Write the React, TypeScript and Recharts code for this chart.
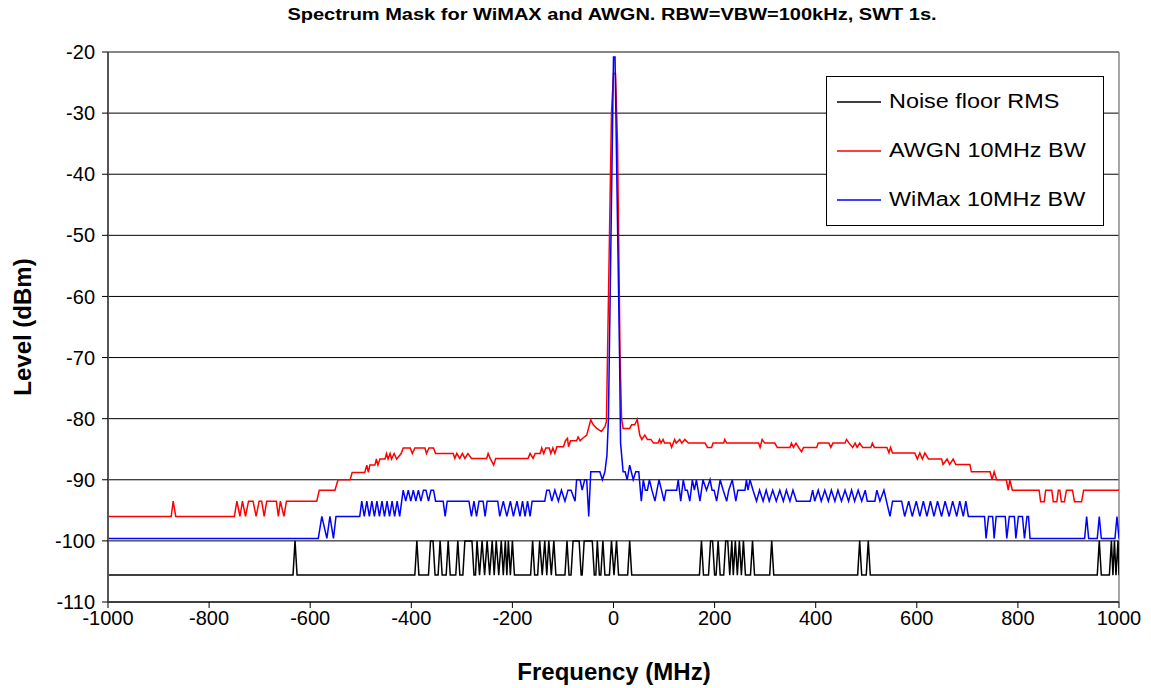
import React from 'react'
import { LineChart, Line, XAxis, YAxis, CartesianGrid, ReferenceLine } from 'recharts'

// [frequency MHz, level dBm]
const noiseFloor: [number, number][] = [
  [-1000, -105.6], [-634, -105.6], [-630, -100], [-626, -105.6],
  [-393, -105.6], [-389, -100], [-385, -105.6],
  [-366, -105.6], [-362, -100], [-357, -100], [-353, -105.6],
  [-347, -105.6], [-343, -100], [-339, -105.6],
  [-331, -105.6], [-327, -100], [-323, -105.6],
  [-312, -105.6], [-308, -100], [-304, -105.6],
  [-298, -105.6], [-294, -100], [-280, -100], [-276, -105.6],
  [-273, -105.6], [-270, -100], [-265, -105.6], [-260, -100], [-255, -105.6],
  [-250, -100], [-245, -105.6], [-240, -100], [-236, -105.6], [-232, -100],
  [-227, -105.6], [-222, -100], [-218, -105.6], [-214, -100], [-211, -105.6],
  [-208, -100], [-204, -105.6], [-200, -100], [-196, -105.6],
  [-164, -105.6], [-160, -100], [-156, -105.6],
  [-150, -105.6], [-146, -100], [-141, -105.6], [-136, -100], [-132, -105.6],
  [-128, -100], [-123, -105.6], [-118, -100], [-114, -105.6],
  [-96, -105.6], [-92, -100], [-88, -105.6],
  [-84, -105.6], [-80, -100], [-68, -100], [-64, -105.6],
  [-62, -105.6], [-58, -100], [-42, -100], [-38, -105.6],
  [-35, -105.6], [-32, -100], [-28, -105.6],
  [-25, -105.6], [-21, -100], [-17, -105.6],
  [-8, -105.6], [-4, -100], [1, -105.6], [6, -100], [10, -105.6],
  [28, -105.6], [32, -100], [36, -105.6],
  [170, -105.6], [174, -100], [178, -105.6],
  [188, -105.6], [192, -100], [196, -100], [200, -105.6],
  [203, -105.6], [207, -100], [211, -105.6],
  [218, -105.6], [222, -100], [226, -100], [230, -105.6], [234, -100],
  [237, -105.6], [241, -100], [245, -105.6], [249, -100], [253, -105.6],
  [257, -100], [261, -105.6],
  [271, -105.6], [275, -100], [279, -105.6],
  [309, -105.6], [313, -100], [317, -105.6],
  [483, -105.6], [487, -100], [491, -105.6],
  [500, -105.6], [504, -100], [508, -105.6],
  [957, -105.6], [961, -100], [965, -105.6],
  [981, -105.6], [985, -100], [988, -105.6], [991, -100], [994, -105.6],
  [998, -100], [1000, -105.6],
]

const awgn: [number, number][] = [
  [-1000, -96], [-875, -96], [-871, -93.5], [-866, -96],
  [-750, -96], [-745, -93.5], [-739, -96], [-734, -93.5], [-728, -96],
  [-722, -93.5], [-713, -93.5], [-707, -96], [-701, -93.5], [-696, -93.5],
  [-691, -96], [-686, -93.5], [-667, -93.5], [-663, -96], [-659, -93.5],
  [-652, -96], [-647, -93.5], [-587, -93.5], [-582, -91.7], [-551, -91.7],
  [-545, -90], [-521, -90], [-517, -88.8], [-492, -88.8], [-488, -87.6],
  [-485, -88.8], [-482, -87.6], [-472, -87.6], [-469, -86.6], [-466, -87.6],
  [-462, -86.6], [-452, -86.6], [-449, -85.7], [-446, -86.6], [-442, -85.7],
  [-439, -86.6], [-434, -85.7], [-429, -86.6], [-420, -85.7], [-416, -84.8],
  [-402, -84.8], [-398, -85.7], [-393, -84.8], [-373, -84.8], [-370, -85.7],
  [-365, -84.8], [-356, -84.8], [-352, -85.7], [-317, -85.7], [-314, -86.5],
  [-310, -85.7], [-304, -86.5], [-299, -85.7], [-294, -86.5], [-288, -85.7],
  [-281, -86.5], [-251, -86.5], [-248, -85.7], [-244, -86.5], [-237, -87.6],
  [-233, -86.5], [-169, -86.5], [-165, -85.7], [-159, -86.5], [-155, -85.7],
  [-145, -85.7], [-142, -84.8], [-138, -85.7], [-134, -84.8], [-127, -84.8],
  [-124, -85.7], [-120, -84.8], [-116, -85.7], [-112, -84.6], [-99, -84.6],
  [-95, -83.6], [-91, -83.2], [-89, -84.6], [-85, -83.6], [-73, -83.6],
  [-70, -83.0], [-66, -83.6], [-61, -83.2], [-53, -82.7], [-45, -80.2],
  [-40, -81], [-33, -81.6], [-24, -82.1], [-17, -81.3], [-14, -80.5],
  [-4, -30], [0, -23.5], [4, -23.5], [8, -35], [13, -70], [16, -80],
  [19, -81.6], [32, -81.6], [36, -81], [42, -81], [47, -80.1], [52, -82.7],
  [56, -83.4], [62, -82.7], [67, -83.4], [74, -83.4], [79, -84], [88, -84],
  [91, -83.4], [94, -84], [98, -83.4], [101, -84], [112, -84], [115, -84.7],
  [121, -83.4], [124, -84], [131, -83.4], [135, -84], [141, -83.4], [148, -84],
  [181, -84], [186, -84.7], [194, -84.7], [197, -84], [218, -84], [220, -83.4],
  [224, -84], [287, -84], [290, -84.7], [294, -83.4], [299, -84], [319, -84],
  [324, -84.7], [349, -84.7], [352, -84], [356, -84.7], [361, -84], [366, -84.7],
  [372, -85.4], [376, -84.7], [402, -84.7], [405, -84], [426, -84], [430, -84.7],
  [434, -84], [458, -84], [461, -83.4], [466, -84], [473, -84.7], [478, -84],
  [482, -84.7], [487, -84], [493, -84.7], [509, -84.7], [512, -84], [516, -84.7],
  [541, -84.7], [545, -85.6], [548, -84.7], [552, -85.6], [596, -85.6],
  [601, -86.6], [606, -85.6], [611, -86.6], [616, -85.6], [623, -86.6],
  [649, -86.6], [652, -87.5], [660, -86.6], [665, -87.5], [672, -86.6],
  [677, -87.5], [705, -87.5], [708, -88.7], [745, -88.7], [749, -90],
  [753, -88.7], [758, -90], [777, -90], [781, -91.7], [784, -90], [789, -91.7],
  [842, -91.7], [845, -93.6], [852, -93.6], [855, -91.7], [867, -91.7],
  [870, -93.6], [877, -93.6], [880, -91.7], [883, -91.7], [886, -93.6],
  [892, -93.6], [896, -91.7], [908, -91.7], [912, -93.6], [926, -93.6],
  [930, -91.7], [1000, -91.7],
]

const wimax: [number, number][] = [
  [-1000, -99.6], [-584, -99.6], [-577, -96], [-567, -99.6], [-561, -96],
  [-554, -99.6], [-549, -96], [-502, -96], [-498, -93.5], [-493, -96],
  [-488, -93.5], [-483, -96], [-478, -93.5], [-473, -96], [-468, -93.5],
  [-463, -96], [-458, -93.5], [-453, -96], [-448, -93.5], [-443, -96],
  [-438, -93.5], [-433, -96], [-428, -93.5], [-423, -96], [-419, -93.5],
  [-416, -91.7], [-411, -93.5], [-406, -91.7], [-401, -93.5], [-396, -91.7],
  [-391, -93.5], [-386, -91.7], [-381, -93.5], [-376, -91.7], [-371, -91.7],
  [-366, -93.5], [-361, -91.7], [-356, -91.7], [-352, -93.5], [-337, -93.5],
  [-333, -96], [-329, -93.5], [-286, -93.5], [-281, -96], [-276, -93.5],
  [-271, -96], [-266, -93.5], [-258, -93.5], [-254, -96], [-250, -93.5],
  [-229, -93.5], [-225, -96], [-218, -93.5], [-211, -96], [-204, -93.5],
  [-198, -96], [-191, -93.5], [-185, -96], [-180, -93.5], [-175, -96],
  [-170, -93.5], [-165, -96], [-161, -93.5], [-136, -93.5], [-132, -91.7],
  [-127, -91.7], [-122, -93.5], [-116, -91.7], [-109, -93.5], [-103, -91.7],
  [-96, -93.5], [-90, -91.7], [-84, -91.7], [-76, -93.5], [-73, -90],
  [-66, -90], [-62, -91.7], [-57, -90], [-53, -90], [-49, -96], [-45, -88.7],
  [-27, -88.7], [-22, -90], [-17, -88.7], [-13, -86], [-10, -80],
  [0, -20.8], [3, -20.8], [12, -70], [14, -84], [19, -88.7], [23, -88.7],
  [27, -90], [32, -87.6], [39, -90], [44, -88.7], [50, -88.7], [55, -93.5],
  [59, -90], [63, -91.7], [67, -91.7], [71, -90], [76, -91.7], [82, -93.5],
  [86, -91.7], [90, -90], [95, -91.7], [100, -93.5], [104, -91.7], [125, -91.7],
  [128, -90], [133, -93.5], [138, -90], [142, -91.7], [146, -91.7], [151, -93.5],
  [156, -90], [160, -91.7], [164, -90], [171, -93.5], [177, -90], [184, -91.7],
  [191, -90], [195, -91.7], [199, -91.7], [204, -93.5], [211, -90], [217, -91.7],
  [224, -93.5], [228, -91.7], [235, -90], [242, -93.5], [246, -91.7], [260, -91.7],
  [263, -90], [266, -91.7], [270, -90], [276, -91.7], [283, -93.5], [289, -91.7],
  [296, -93.5], [302, -91.7], [308, -93.5], [315, -91.7], [322, -93.5],
  [329, -91.7], [336, -93.5], [342, -91.7], [349, -93.5], [355, -91.7],
  [362, -93.5], [389, -93.5], [394, -91.7], [398, -93.5], [405, -91.7],
  [411, -93.5], [418, -91.7], [425, -93.5], [431, -91.7], [438, -93.5],
  [444, -91.7], [451, -93.5], [458, -91.7], [465, -93.5], [471, -91.7],
  [477, -93.5], [484, -91.7], [491, -93.5], [498, -91.7], [502, -93.5],
  [517, -93.5], [521, -91.7], [527, -93.5], [535, -91.7], [540, -93.5],
  [547, -96], [552, -93.5], [570, -93.5], [576, -96], [584, -93.5], [591, -96],
  [599, -93.5], [606, -96], [613, -93.5], [620, -96], [627, -93.5], [634, -96],
  [641, -93.5], [649, -96], [656, -93.5], [664, -96], [671, -93.5], [679, -96],
  [685, -93.5], [692, -96], [697, -93.5], [702, -96], [734, -96], [737, -99.6],
  [742, -96], [750, -96], [753, -99.6], [757, -96], [775, -96], [778, -99.6],
  [783, -96], [793, -96], [796, -99.6], [801, -96], [809, -96], [813, -99.6],
  [818, -96], [821, -96], [824, -99.6], [932, -99.6], [936, -96], [940, -99.6],
  [957, -99.6], [961, -96], [965, -99.6], [992, -99.6], [996, -96], [1000, -99.6],
]

const xTicks = [-1000, -800, -600, -400, -200, 0, 200, 400, 600, 800, 1000]
const yTicks = [-110, -100, -90, -80, -70, -60, -50, -40, -30, -20]

const series = [
  { name: 'Noise floor RMS', color: '#000000', points: noiseFloor },
  { name: 'AWGN 10MHz BW', color: '#ff0000', points: awgn },
  { name: 'WiMax 10MHz BW', color: '#0000ff', points: wimax },
]

const font = 'Arial, "Liberation Sans", sans-serif'

export default function App() {
  return (
    <div style={{ position: 'absolute', left: 0, top: 0, width: 1151, height: 688, background: '#fff', fontFamily: font }}>
      <div style={{ position: 'absolute', left: 0, width: 1224, top: 6, textAlign: 'center', fontSize: 16, fontWeight: 'bold', transform: 'scaleX(1.25)', transformOrigin: '612px 0' }}>
        Spectrum Mask for WiMAX and AWGN. RBW=VBW=100kHz, SWT 1s.
      </div>
      <LineChart width={1151} height={688} margin={{ top: 52, right: 32, left: 48, bottom: 46 }}>
        <CartesianGrid vertical={false} stroke="#000" strokeWidth={1} />
        <XAxis
          type="number"
          dataKey="x"
          domain={[-1000, 1000]}
          ticks={xTicks}
          height={40}
          tickSize={6}
          tickMargin={3}
          tick={{ fontSize: 20, fill: '#000', fontFamily: font }}
          stroke="#000"
          allowDataOverflow
        />
        <YAxis
          type="number"
          dataKey="y"
          domain={[-110, -20]}
          ticks={yTicks}
          width={60}
          tickSize={6}
          tickMargin={7}
          tick={{ fontSize: 20, fill: '#000', fontFamily: font }}
          axisLine={{ stroke: '#555', strokeWidth: 2 }}
          tickLine={{ stroke: '#000' }}
          allowDataOverflow
        />
        <ReferenceLine x={1000} stroke="#888" strokeWidth={1.5} />
        <ReferenceLine y={-20} stroke="#888" strokeWidth={1.5} />
        {series.map((s) => (
          <Line
            key={s.name}
            data={s.points.map(([x, y]) => ({ x, y }))}
            dataKey="y"
            type="linear"
            stroke={s.color}
            strokeWidth={1.5}
            dot={false}
            isAnimationActive={false}
            name={s.name}
          />
        ))}
      </LineChart>
      <div style={{ position: 'absolute', left: 826, top: 76, width: 276, height: 148, border: '1px solid #000', background: '#fff' }}>
        {series.map((s, i) => (
          <div key={s.name} style={{ position: 'absolute', left: 10, top: 13 + i * 49, display: 'flex', alignItems: 'center', fontSize: 20, whiteSpace: 'nowrap' }}>
            <svg width={44} height={4} style={{ marginRight: 8 }}>
              <line x1={0} y1={2} x2={44} y2={2} stroke={s.color} strokeWidth={1.5} />
            </svg>
            <span style={{ display: 'inline-block', transform: 'scaleX(1.17)', transformOrigin: '0 50%' }}>{s.name}</span>
          </div>
        ))}
      </div>
      <div style={{ position: 'absolute', left: 0, width: 1228, top: 658, textAlign: 'center', fontSize: 24, fontWeight: 'bold' }}>
        Frequency (MHz)
      </div>
      <div style={{ position: 'absolute', left: 23, top: 327, transform: 'translate(-50%, -50%) rotate(-90deg)', fontSize: 24, fontWeight: 'bold', whiteSpace: 'nowrap' }}>
        Level (dBm)
      </div>
    </div>
  )
}
